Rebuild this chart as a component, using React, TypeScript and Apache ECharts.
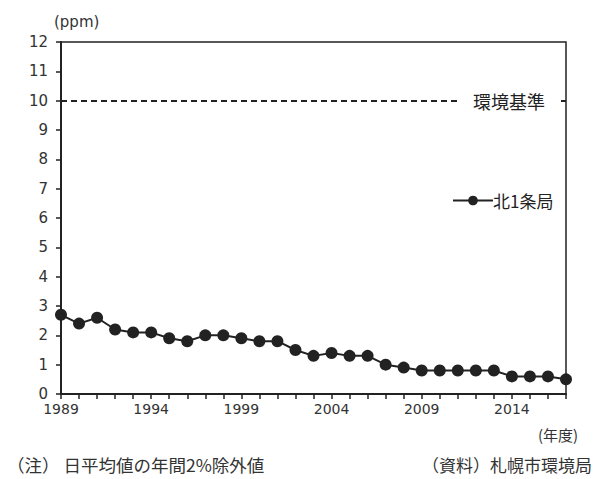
import React, { useEffect, useRef } from "react";
import * as echarts from "echarts";

const years: string[] = [
  "1989","1990","1991","1992","1993","1994","1995","1996","1997","1998",
  "1999","2000","2001","2002","2003","2004","2005","2006","2007","2008",
  "2009","2010","2011","2012","2013","2014","2015","2016","2017",
];
const kita1jo: number[] = [
  2.7, 2.4, 2.6, 2.2, 2.1, 2.1, 1.9, 1.8, 2.0, 2.0,
  1.9, 1.8, 1.8, 1.5, 1.3, 1.4, 1.3, 1.3, 1.0, 0.9,
  0.8, 0.8, 0.8, 0.8, 0.8, 0.6, 0.6, 0.6, 0.5,
];
const standardValue = 10;
const seriesName = "北1条局";
const standardLabel = "環境基準";
const yUnit = "(ppm)";
const xUnit = "(年度)";
const noteText = "（注） 日平均値の年間2%除外値";
const sourceText = "（資料）札幌市環境局";

const NUM_FONT = "DejaVu Sans, Verdana, sans-serif";
const JP_FONT = "'Noto Sans CJK JP', sans-serif";
const INK = "#222";

export default function App() {
  const ref = useRef<HTMLDivElement>(null);
  useEffect(() => {
    if (!ref.current) return;
    const chart = echarts.init(ref.current, undefined, { renderer: "svg" });
    chart.setOption({
      animation: false,
      backgroundColor: "#fff",
      grid: {
        left: 61,
        right: 27,
        top: 42,
        bottom: 85,
        show: true,
        borderColor: INK,
        borderWidth: 1.5,
        containLabel: false,
      },
      legend: {
        left: 447,
        top: 187,
        itemWidth: 40,
        itemHeight: 12,
        itemGap: 4,
        data: [seriesName],
        textStyle: { fontFamily: JP_FONT, fontSize: 17, color: INK, padding: [0, 0, 0, -5] },
      },
      xAxis: {
        type: "category",
        data: years,
        boundaryGap: false,
        axisLine: { lineStyle: { color: INK, width: 2 } },
        axisTick: { show: true, interval: 0, length: 5, lineStyle: { color: INK, width: 1.5 } },
        axisLabel: {
          interval: 4,
          margin: 8,
          fontFamily: NUM_FONT,
          fontSize: 14,
          color: "#333",
        },
      },
      yAxis: {
        type: "value",
        min: 0,
        max: 12,
        interval: 1,
        name: yUnit,
        nameLocation: "end",
        nameGap: 13,
        nameTextStyle: {
          fontFamily: NUM_FONT,
          fontSize: 15,
          color: "#333",
          align: "left",
          padding: [0, 0, 0, -7],
        },
        splitLine: { show: false },
        axisLine: { show: true, lineStyle: { color: INK, width: 2 } },
        axisTick: { show: true, length: 5, lineStyle: { color: INK, width: 1.5 } },
        axisLabel: {
          margin: 13,
          fontFamily: NUM_FONT,
          fontSize: 15,
          color: "#333",
        },
      },
      series: [
        {
          name: seriesName,
          type: "line",
          data: kita1jo,
          symbol: "circle",
          symbolSize: 12,
          showSymbol: true,
          showAllSymbol: true,
          lineStyle: { color: INK, width: 2 },
          itemStyle: { color: INK },
          markLine: {
            silent: true,
            symbol: "none",
            data: [{ yAxis: standardValue }],
            lineStyle: { color: INK, width: 2, type: [6, 4] },
            label: {
              show: true,
              position: "insideEnd",
              distance: 5,
              formatter: standardLabel,
              fontFamily: JP_FONT,
              fontSize: 18,
              color: INK,
              backgroundColor: "#fff",
              padding: [3, 16, 3, 13],
            },
          },
        },
      ],
      graphic: [
        {
          type: "text",
          left: 538,
          top: 427,
          style: { text: xUnit, fontFamily: JP_FONT, fontSize: 15, fill: "#333" },
        },
        {
          type: "text",
          left: 7,
          top: 456,
          style: { text: noteText, fontFamily: JP_FONT, fontSize: 17.5, fill: "#333" },
        },
        {
          type: "text",
          right: 1,
          top: 456,
          style: { text: sourceText, fontFamily: JP_FONT, fontSize: 17, fill: "#333" },
        },
      ],
    });
    return () => chart.dispose();
  }, []);
  return (
    <div
      ref={ref}
      style={{ position: "fixed", left: 0, top: 0, width: 593, height: 479 }}
    />
  );
}
